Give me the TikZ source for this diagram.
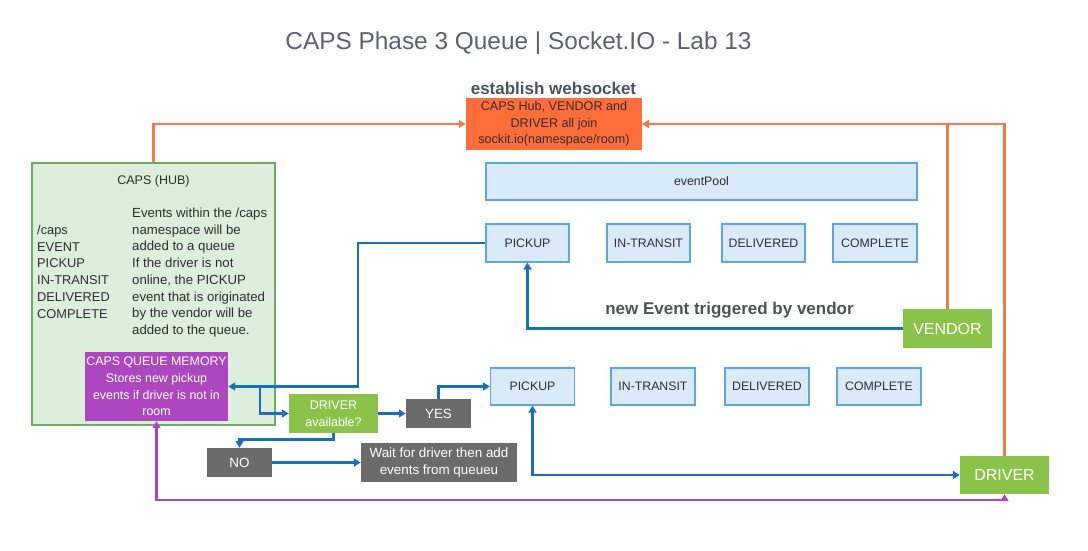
\documentclass[tikz,border=0pt]{standalone}
\usepackage{fontspec}
\setmainfont{Liberation Sans}
\usetikzlibrary{arrows.meta}
\definecolor{orgline}{HTML}{F47B4F}
\definecolor{orgfill}{HTML}{FF6D3A}
\definecolor{hubfill}{HTML}{DDEEDD}
\definecolor{hubdraw}{HTML}{6BAE63}
\definecolor{evfill}{HTML}{DAEAF9}
\definecolor{evdraw}{HTML}{5DA5E3}
\definecolor{grn}{HTML}{8BC34A}
\definecolor{purp}{HTML}{AD47BF}
\definecolor{gry}{HTML}{6B6B6B}
\definecolor{blu}{HTML}{1A6EC2}
\definecolor{titlec}{HTML}{5B6170}
\definecolor{txt}{HTML}{2E2E2E}
\tikzset{
  fs/.style={font=\fontsize{#1}{16.7}\selectfont},
  box/.style args={#1x#2}{minimum width=#1pt, minimum height=#2pt, inner sep=0pt, align=center},
  evbox/.style={fill=evfill, draw=evdraw, line width=1.2pt, text=txt, fs=12.3},
  grnbox/.style={fill=grn, text=white},
  grybox/.style={fill=gry, text=white, fs=13.4},
  tip/.style={-{Triangle[length=7pt,width=8pt]}},
  btip/.style={{Triangle[length=7pt,width=8pt]}-{Triangle[length=7pt,width=8pt]}},
  oline/.style={draw=orgline, line width=2.8pt},
  bline/.style={draw=blu, line width=2.8pt},
  pline/.style={draw=purp, line width=2.8pt},
}
\begin{document}
\begin{tikzpicture}[x=1pt,y=-1pt]
\useasboundingbox (0,0) rectangle (1088,550);
% title
\node[text=titlec, fs=24.4] (title) at (518.5,43) {CAPS Phase 3 Queue | Socket.IO - Lab 13};
\node[text=titlec!85!black, font=\bfseries\fontsize{17}{20}\selectfont] (estab) at (553.5,88) {establish websocket};
\node[box=176x52, fill=orgfill, text=txt, fs=12.6] (ws) at (554,124) {CAPS Hub, VENDOR and\\DRIVER all join\\sockit.io(namespace/room)};
% hub
\node[box=243x262, fill=hubfill, draw=hubdraw, line width=1.2pt] (hub) at (153.5,294) {};
\node[text=txt, fs=12.5] (hubt) at (153.5,181) {CAPS (HUB)};
\foreach \t [count=\i] in {/caps,EVENT,PICKUP,IN-TRANSIT,DELIVERED,COMPLETE}
  \node[anchor=base west, inner sep=0pt, text=txt, fs=12.8] (lc\i) at (37,{234.5+16.7*(\i-1)}) {\t};
\foreach \t [count=\i] in {Events within the /caps,namespace will be,added to a queue,If the driver is not,{online, the PICKUP},event that is originated,by the vendor will be,added to the queue.}
  \node[anchor=base west, inner sep=0pt, text=txt, fs=13.2] (rc\i) at (132,{217.5+16.7*(\i-1)}) {\t};
\node[box=143x69, fill=purp, text=white, fs=12.4] (mem) at (156.5,386.5) {CAPS QUEUE MEMORY\\Stores new pickup\\events if driver is not in\\room};
% event pool
\node[box=431x37, evbox] (pool) at (701.5,181.5) {eventPool};
\node[box=83x38, evbox] (pk1) at (527.5,243) {PICKUP};
\node[box=83x38, evbox] (it1) at (648.5,243) {IN-TRANSIT};
\node[box=83x38, evbox] (dl1) at (763.5,243) {DELIVERED};
\node[box=84x38, evbox] (cp1) at (875,243) {COMPLETE};
\node[box=84x37, evbox] (pk2) at (532.5,386.5) {PICKUP};
\node[box=84x37, evbox] (it2) at (653,386.5) {IN-TRANSIT};
\node[box=84x37, evbox] (dl2) at (767,386.5) {DELIVERED};
\node[box=84x37, evbox] (cp2) at (879,386.5) {COMPLETE};
% actors
\node[box=89x39, grnbox, fs=16] (vendor) at (947.5,328.5) {VENDOR};
\node[box=89x38, grnbox, fs=16] (driver) at (1004.5,475) {DRIVER};
\node[text=titlec!85!black, font=\bfseries\fontsize{17}{20}\selectfont] (newev) at (729.5,310) {new Event triggered by vendor};
% decision
\node[box=89x39, grnbox, fs=12.5] (avail) at (333.5,413.5) {DRIVER\\available?};
\node[box=65x29, grybox] (yes) at (438.5,413.5) {YES};
\node[box=65x29, grybox] (no) at (239.5,462.5) {NO};
\node[box=156x39, grybox] (wait) at (439,462.5) {Wait for driver then add\\events from queueu};
% orange connectors
\draw[oline, tip] (hub.north) |- (ws.west);
\draw[oline, tip] (vendor.north) |- (ws.east);
\draw[oline, tip] (driver.north) |- (ws.east);
% blue connectors
\draw[bline, tip] (vendor.west) -| (pk1.south);
\coordinate (j1) at (358,243);
\coordinate (j2) at (260,386.5);
\draw[bline, tip] (pk1.west) -- (j1) |- (mem.east);
\draw[bline, tip] (j2) |- (avail.west);
\draw[bline, tip] (avail.east) -- (yes.west);
\draw[bline, tip] (yes.north) |- (pk2.west);
\draw[bline, tip] (avail.south) -- ++(0,6) -| (no.north);
\draw[bline, tip] (no.east) -- (wait.west);
\draw[bline, btip] (pk2.south) |- (driver.west);
% purple connector
\draw[pline, btip] (mem.south) -- (156.5,500) -| (driver.south);
\end{tikzpicture}
\end{document}
